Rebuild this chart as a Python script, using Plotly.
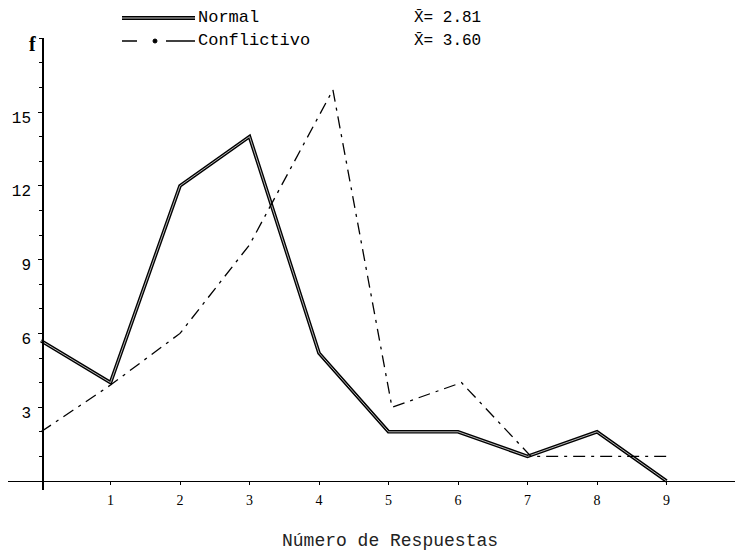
import plotly.graph_objects as go

# ---- data ----
respuestas = [0, 1, 2, 3, 4, 5, 6, 7, 8, 9]
normal_f = [5.7, 4, 12, 14, 5.2, 2, 2, 1, 2, 0]
conf_x = [0, 1, 2, 3, 4.2, 5.05, 6.05, 7.05, 8, 9]
conf_f = [2, 3.9, 6, 9.6, 15.9, 3, 4, 1, 1, 1]
x_ticks = [1, 2, 3, 4, 5, 6, 7, 8, 9]
y_ticks = [3, 6, 9, 12, 15]
series_names = ["Normal", "Conflictivo"]
means = ["X\u0304= 2.81", "X\u0304= 3.60"]
x_title = "Número de Respuestas"

# ---- geometry (target-window pixels; page body adds an 8px offset) ----
OFF = 8
FW, FH = 743 - OFF, 551 - OFF
Lt, Rt, Tt, Bt = 8, 743, 38, 490


def px(x):
    return (x - Lt) / (Rt - Lt)


def py(y):
    return (Bt - y) / (Bt - Tt)


fig = go.Figure()

# Normal: double line look
fig.add_trace(go.Scatter(x=respuestas, y=normal_f, mode="lines",
                         line=dict(color="black", width=3.6),
                         showlegend=False, hoverinfo="skip"))
fig.add_trace(go.Scatter(x=respuestas, y=normal_f, mode="lines",
                         line=dict(color="#c8c8c8", width=0.9),
                         showlegend=False, name=series_names[0]))
# Conflictivo: dash-dot line
fig.add_trace(go.Scatter(x=conf_x, y=conf_f, mode="lines",
                         line=dict(color="black", width=1.3, dash="12px,6px,3px,6px"),
                         showlegend=False, name=series_names[1]))

mono = "Liberation Mono"
row1, row2 = 18, 41
annotations = [
    dict(text="<b>f</b>", x=px(32), y=py(44), font=dict(family="Liberation Serif", size=20, color="black"),
         xanchor="center", yanchor="middle"),
    dict(text=series_names[0], x=px(196), y=py(row1), font=dict(family=mono, size=17, color="black"),
         xanchor="left", yanchor="middle"),
    dict(text=series_names[1], x=px(196), y=py(row2), font=dict(family=mono, size=17, color="black"),
         xanchor="left", yanchor="middle"),
    dict(text=means[0], x=px(412), y=py(row1), font=dict(family=mono, size=16, color="black"),
         xanchor="left", yanchor="middle"),
    dict(text=means[1], x=px(412), y=py(row2), font=dict(family=mono, size=16, color="black"),
         xanchor="left", yanchor="middle"),
    dict(text=x_title, x=px(390), y=py(541), font=dict(family=mono, size=18, color="#222"),
         xanchor="center", yanchor="middle"),
]
for a in annotations:
    a.update(xref="paper", yref="paper", showarrow=False)

shapes = [
    # legend sample Normal (double line)
    dict(type="line", x0=px(122), x1=px(195), y0=py(row1), y1=py(row1),
         line=dict(color="black", width=4)),
    dict(type="line", x0=px(122), x1=px(195), y0=py(row1), y1=py(row1),
         line=dict(color="#c8c8c8", width=1)),
    # legend sample Conflictivo
    dict(type="line", x0=px(122), x1=px(137), y0=py(row2), y1=py(row2),
         line=dict(color="black", width=1.5)),
    dict(type="circle", x0=px(153), x1=px(157), y0=py(row2 + 2), y1=py(row2 - 2),
         fillcolor="black", line=dict(color="black", width=1)),
    dict(type="line", x0=px(166), x1=px(195), y0=py(row2), y1=py(row2),
         line=dict(color="black", width=1.5)),
]
for s in shapes:
    s.update(xref="paper", yref="paper")

x0_px, x_unit = 41, 69.5
y0_px, y_unit = 481, 24.6

fig.update_layout(
    width=FW, height=FH,
    margin=dict(l=Lt - OFF, r=743 - Rt, t=Tt - OFF, b=551 - Bt),
    paper_bgcolor="white", plot_bgcolor="white",
    showlegend=False,
    annotations=annotations,
    shapes=shapes,
    xaxis=dict(range=[(Lt - x0_px) / x_unit, (Rt - x0_px) / x_unit],
               anchor="free", position=py(y0_px),
               showline=True, linecolor="black", linewidth=1.3,
               showgrid=False, zeroline=False,
               tickmode="array", tickvals=x_ticks, ticktext=[str(v) for v in x_ticks],
               ticks="outside", ticklen=3, tickcolor="black", tickwidth=1,
               ticklabelstandoff=3,
               tickfont=dict(family="Liberation Serif", size=14, color="black")),
    yaxis=dict(range=[(y0_px - Bt) / y_unit, (y0_px - Tt) / y_unit],
               anchor="free", position=px(43),
               showline=True, linecolor="black", linewidth=1.6,
               showgrid=False, zeroline=False,
               tickmode="array", tickvals=y_ticks, ticktext=[str(v) for v in y_ticks],
               ticks="outside", ticklen=4, tickcolor="black", tickwidth=1,
               ticklabelstandoff=4, ticklabelshift=5,
               minor=dict(tick0=0, dtick=1, ticks="outside", ticklen=3, tickcolor="black"),
               tickfont=dict(family=mono, size=16, color="black")),
)

fig.write_html("out.html")
